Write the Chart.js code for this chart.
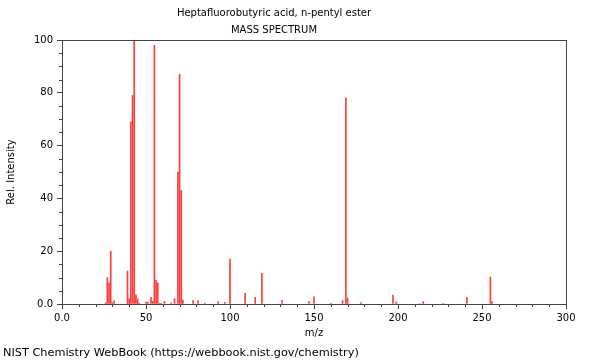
<!DOCTYPE html>
<html>
<head>
    <title>Heptafluorobutyric acid, n-pentyl ester - Mass Spectrum</title>
    <script src="https://cdn.jsdelivr.net/npm/chart.js"></script>
    <style>
        body { margin: 0; background: #fff; }
        #wrap { position: relative; width: 600px; height: 360px; }
        #heading {
            position: absolute; left: 0; width: 548px; top: 4px;
            text-align: center; line-height: 17px;
            font-family: "DejaVu Sans", sans-serif; font-size: 10px; color: #000;
        }
        #footer {
            position: absolute; left: 3px; top: 346px;
            font-family: "DejaVu Sans", sans-serif; font-size: 11.3px; color: #000;
        }
    </style>
</head>
<body>
<div id="wrap">
    <canvas id="msChart" width="600" height="360"></canvas>
    <div id="heading"></div>
    <div id="footer">NIST Chemistry WebBook (https://webbook.nist.gov/chemistry)</div>
</div>

<script>
// peak positions (m/z) and relative intensities
const mz = [26, 27, 28, 29, 30, 31, 39, 40, 41, 42, 43, 44, 45, 46, 50, 51, 53, 54, 55, 56,
            57, 58, 59, 61, 65, 67, 69, 70, 71, 72, 78, 81, 85, 93, 97, 100, 109, 115, 119, 131,
            147, 150, 160, 167, 169, 170, 178, 197, 199, 213, 215, 227, 241, 255, 256];
const intensity = [0.5, 10, 8, 20, 0.5, 1.2, 12.5, 2, 69, 79, 100, 3.5, 2, 0.3, 0.7, 0.7, 2.5, 1, 98, 9,
                   8, 0.3, 0.3, 1, 0.4, 2, 50, 87, 43, 1.5, 1.3, 1.3, 0.3, 0.9, 0.6, 17, 4, 2.5, 11.6, 1.4,
                   0.9, 2.7, 0.3, 1.3, 78, 2.3, 0.5, 3.4, 0.8, 0.2, 0.9, 0.2, 2.5, 10.2, 0.9];

const titleLines = ['Heptafluorobutyric acid, n-pentyl ester', 'MASS SPECTRUM'];
const xTicks = [0, 50, 100, 150, 200, 250, 300];
const yTicks = [0, 20, 40, 60, 80, 100];

const axisColor = '#444';
const font10 = { family: 'DejaVu Sans', size: 10 };

// the two heading lines
document.getElementById('heading').innerHTML = titleLines.join('<br>');

function tickText(value) {
    return value === 0 ? '0.0' : String(value);
}

// small ticks between the labelled ones + box round the plot
const framePlugin = {
    id: 'frame',
    afterDraw(chart) {
        const ctx = chart.ctx;
        const a = chart.chartArea;
        const xs = chart.scales.x;
        const ys = chart.scales.y;
        ctx.save();
        ctx.strokeStyle = axisColor;
        ctx.lineWidth = 1;
        ctx.beginPath();
        for (let v = 10; v < 300; v += 10) {
            if (v % 50 === 0) continue;
            const px = Math.round(xs.getPixelForValue(v)) + 0.5;
            ctx.moveTo(px, a.bottom);
            ctx.lineTo(px, a.bottom + 3);
        }
        for (let v = 5; v < 100; v += 5) {
            if (v % 20 === 0) continue;
            const py = Math.round(ys.getPixelForValue(v)) + 0.5;
            ctx.moveTo(a.left - 3, py);
            ctx.lineTo(a.left, py);
        }
        ctx.stroke();
        ctx.strokeRect(Math.round(a.left) + 0.5, Math.round(a.top) + 0.5,
                       Math.round(a.right - a.left), Math.round(a.bottom - a.top));
        ctx.restore();
    }
};

new Chart(document.getElementById('msChart').getContext('2d'), {
    type: 'bar',
    data: {
        datasets: [{
            data: mz.map((m, i) => ({ x: m, y: intensity[i] })),
            backgroundColor: 'rgb(255, 60, 60)',
            borderWidth: 0,
            barThickness: 1
        }]
    },
    options: {
        responsive: false,
        animation: false,
        layout: { padding: { left: 0, right: 34, top: 40, bottom: 21 } },
        plugins: {
            legend: { display: false },
            tooltip: { enabled: false },
            title: { display: false }
        },
        scales: {
            x: {
                type: 'linear',
                min: 0,
                max: 300,
                offset: false,
                afterBuildTicks: s => { s.ticks = xTicks.map(v => ({ value: v })); },
                afterFit: s => { s.height = 35; },
                ticks: { color: '#000', font: font10, padding: 3, maxRotation: 0, callback: tickText },
                grid: { drawOnChartArea: false, offset: false, tickLength: 5, color: axisColor },
                border: { color: axisColor },
                title: { display: true, text: 'm/z', color: '#000', font: font10, padding: 0 }
            },
            y: {
                min: 0,
                max: 100,
                afterBuildTicks: s => { s.ticks = yTicks.map(v => ({ value: v })); },
                afterFit: s => { s.width = 62; },
                ticks: { color: '#000', font: font10, padding: 4, callback: tickText },
                grid: { drawOnChartArea: false, tickLength: 5, color: axisColor },
                border: { color: axisColor },
                title: { display: true, text: 'Rel. Intensity', color: '#000', font: font10, padding: { top: 5, bottom: 0 } }
            }
        }
    },
    plugins: [framePlugin]
});
</script>
</body>
</html>
